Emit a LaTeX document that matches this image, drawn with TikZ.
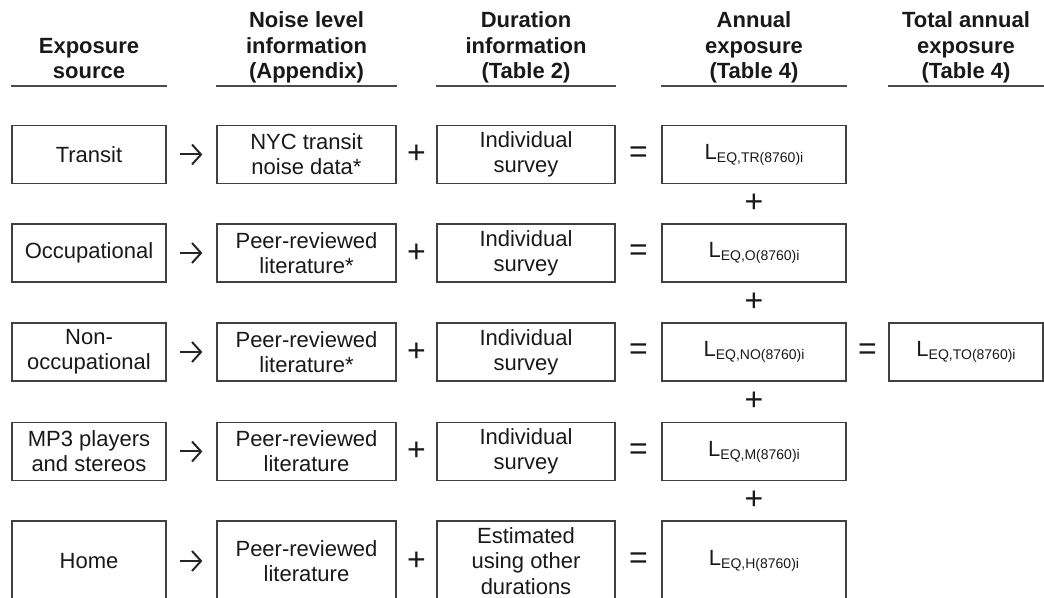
\documentclass[tikz,border=0pt]{standalone}
\usepackage{fontspec}
\setmainfont{Liberation Sans}
\usepackage{tikz}
\usetikzlibrary{positioning, calc, arrows.meta}

\newcommand{\leqsub}[1]{L\raisebox{-1.4pt}{\fontsize{7}{8}\selectfont EQ,#1(8760)i}}

% one row: index, y, box height, source, noise level, duration, subscript
\newcommand{\exprow}[7]{%
    \node[box, minimum width=77pt, minimum height=#3] (src#1) at (89,#2) {#4};
    \node[box, minimum width=89.5pt, minimum height=#3] (lvl#1) at (306.5,#2) {#5};
    \node[box, minimum width=89pt, minimum height=#3] (dur#1) at (526,#2) {#6};
    \node[box, minimum width=92pt, minimum height=#3] (ann#1) at (754,#2) {\leqsub{#7}};
    \draw[flow] (src#1) -- (lvl#1);
    \node[op] (plus#1) at ($(lvl#1.east)!0.5!(dur#1.west)$) {+};
    \node[op] (eq#1) at ($(dur#1.east)!0.5!(ann#1.west)$) {=};
}

\begin{document}
\begin{tikzpicture}[x=0.5pt, y=-0.5pt,
    box/.style={draw=black!75, line width=0.65pt, align=center, inner sep=0pt, text=black!90, font=\fontsize{11}{12.6}\selectfont},
    head/.style={anchor=south, align=center, inner sep=0pt, text depth=2.2pt, text=black!90, font=\fontsize{11}{12.8}\selectfont\bfseries},
    headrule/.style={draw=black!70, line width=0.55pt},
    op/.style={inner sep=0pt, text=black!90, font=\fontsize{16}{16}\selectfont},
    flow/.style={-{Straight Barb[length=4.5pt, width=10pt]}, line width=1pt, black!85, shorten <=6.5pt, shorten >=7pt}]
    \useasboundingbox (0,0) rectangle (1044,598);

    % Column headings
    \node[head] (hsrc) at (89,83.5) {Exposure\\source};
    \node[head] (hlvl) at (306.5,83.5) {Noise level\\information\\(Appendix)};
    \node[head] (hdur) at (526,83.5) {Duration\\information\\(Table 2)};
    \node[head] (hann) at (754,83.5) {Annual\\exposure\\(Table 4)};
    \node[head] (htot) at (966,83.5) {Total annual\\exposure\\(Table 4)};

    % Rows
    \exprow{1}{154.5}{29pt}{Transit}{NYC transit\\noise data*}{Individual\\survey}{TR}
    \exprow{2}{253}{29pt}{Occupational}{Peer-reviewed\\literature*}{Individual\\survey}{O}
    \exprow{3}{352}{29pt}{Non-\\occupational}{Peer-reviewed\\literature*}{Individual\\survey}{NO}
    \exprow{4}{451.5}{29pt}{MP3 players\\and stereos}{Peer-reviewed\\literature}{Individual\\survey}{M}
    \exprow{5}{561}{40pt}{Home}{Peer-reviewed\\literature}{Estimated\\using other\\durations}{H}

    % Sum of annual exposures
    \foreach \i/\j in {1/2, 2/3, 3/4, 4/5}
        \node[op] (sum\i) at ($(ann\i.south)!0.5!(ann\j.north)$) {+};

    \node[box, minimum width=77pt, minimum height=29pt] (tot) at (966,352) {\leqsub{TO}};
    \node[op] (eqtot) at ($(ann3.east)!0.5!(tot.west)$) {=};

    % Heading rules
    \foreach \c in {src1, lvl1, dur1, ann1, tot}
        \draw[headrule] (\c.west |- 0,86) -- (\c.east |- 0,86);
\end{tikzpicture}
\end{document}
